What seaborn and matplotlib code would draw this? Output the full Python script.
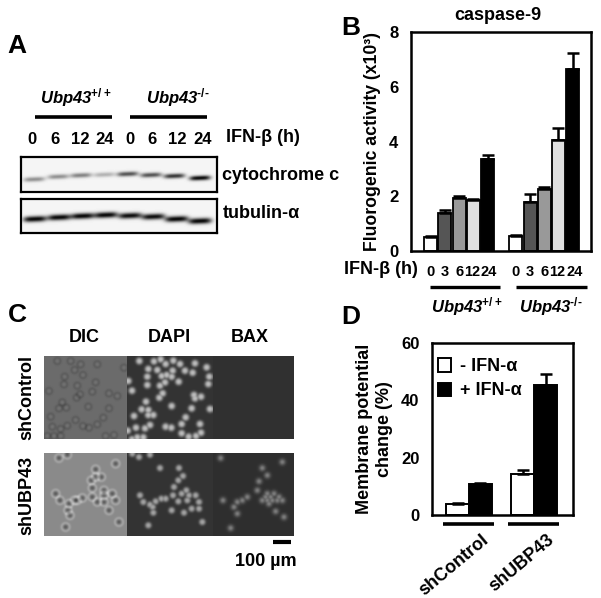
import numpy as np
import pandas as pd
import matplotlib
matplotlib.use("Agg")
import matplotlib.pyplot as plt
import seaborn as sns
from matplotlib.transforms import ScaledTranslation

sns.set_theme(style="white")
FONT = "Liberation Sans"
plt.rcParams.update({
    "font.family": [FONT, "DejaVu Sans"], "font.weight": "bold", "font.size": 11,
    "mathtext.fontset": "custom", "mathtext.rm": f"{FONT}:bold",
    "mathtext.it": f"{FONT}:bold:italic", "mathtext.bf": f"{FONT}:bold",
    "mathtext.bfit": f"{FONT}:bold:italic",
})

# ---- panel B data
b_labels = ["0", "3", "6", "12", "24", "", "0", "3", "6", "12", "24"]
b_pos = [0, 1, 2, 3, 4, 6, 7, 8, 9, 10]
b_vals = [0.5, 1.37, 1.94, 1.86, 3.35, 0.54, 1.8, 2.25, 4.05, 6.65]
b_errs = [0.03, 0.14, 0.08, 0.03, 0.16, 0.03, 0.28, 0.07, 0.43, 0.6]
b_cols = ["white", "#555555", "#999999", "#e0e0e0", "black"] * 2
# ---- panel D data
d_groups = ["shControl", "shControl", "shUBP43", "shUBP43"]
d_hue = ["- IFN-α", "+ IFN-α", "- IFN-α", "+ IFN-α"]
d_vals = [3.9, 10.7, 14.2, 45.5]
d_errs = [0.4, 0.6, 1.5, 3.6]
# ---- panel A lane labels and band readings (x, y, intensity)
a_times = ["0", "6", "12", "24", "0", "6", "12", "24"]
a_time_x = [32, 55, 80, 105, 130, 152, 177, 203]
cyto_x = [58, 130, 198, 268, 338, 408, 478, 555]
cyto_y = [82, 74, 70, 68, 66, 69, 72, 78]
cyto_i = [0.42, 0.42, 0.48, 0.28, 0.68, 0.68, 0.8, 1.0]
tub_x = [105, 178, 248, 318, 390, 460, 530, 600]
tub_y = [597, 592, 588, 585, 587, 590, 597, 603]
tub_i = [0.98, 0.98, 0.98, 0.98, 0.95, 0.95, 0.98, 0.98]
tub_low = [0.1, 0.1, 0.1, 0.1, 0.3, 0.45, 0.65, 0.7]
# ---- panel C cell positions
dic1 = [(40,18),(80,18),(110,28),(160,28),(92,45),(62,65),(117,60),(155,82),(60,88),(100,92),
        (15,108),(108,118),(98,128),(220,123),(195,115),(55,142),(45,160),(67,158),(133,155),
        (195,160),(20,185),(95,195),(70,212),(178,188),(25,215),(117,213),(135,218),(160,208),
        (185,243),(210,240),(50,222),(30,243),(50,243),(10,243),(240,38),(145,110)]
dapi1 = [(418,183),(462,184),(482,178),(520,182),(497,192),(540,192),(585,190),(620,202),(445,207),
         (472,210),(518,212),(500,225),(485,228),(515,230),(555,212),(578,218),(628,230),(442,230),
         (536,245),(625,252),(385,243),(442,255),(480,257),(495,247),(396,272),(488,280),(478,293),
         (582,285),(603,290),(585,295),(438,305),(515,318),(575,325),(425,328),(445,330),(445,345),
         (460,345),(402,348),(450,375),(435,385),(408,383),(497,380),(514,383),(545,372),(557,352),
         (600,372),(545,400),(603,398),(588,408),(566,410),(396,418),(412,412),(430,412),(630,327),(383,392)]
dic2 = [(172,75),(155,52),(142,85),(145,108),(180,115),(205,125),(160,150),(180,150),(215,145),
        (195,175),(145,135),(180,130),(115,138),(92,145),(75,155),(72,175),(78,190),(48,145),
        (35,125),(65,225),(215,35),(45,18),(70,8),(225,210),(100,145),(155,75)]
dapi2a = [(265,5),(285,15),(318,8),(348,48),(288,130),(298,150),(318,158),(335,148),(352,140),
          (365,140),(326,165),(328,182),(313,220)]
dapi2b = [(30,48),(42,72),(28,85),(15,105),(12,130),(28,148),(38,125),(52,115),(55,145),(68,170),
          (80,130),(90,150),(90,170),(60,130),(100,210),(45,182),(8,175)]
bax2 = [(155,18),(280,48),(295,70),(270,88),(265,115),(162,145),(235,135),(220,145),(205,150),
        (195,165),(205,185),(185,228),(345,195),(320,178),(295,125),(315,125),(330,135),(280,145),
        (295,145),(310,145),(325,145),(340,145),(300,155),(290,135),(305,135),(340,30)]

W, H = 601, 598
fig = plt.figure(figsize=(W / 100, H / 100), dpi=100, facecolor="white")


def px_axes(l, t, r, b, **kw):
    return fig.add_axes([l / W, 1 - b / H, (r - l) / W, (b - t) / H], **kw)


overlay = px_axes(0, 0, W, H)
overlay.set_xlim(0, W)
overlay.set_ylim(H, 0)
overlay.axis("off")
overlay.set_zorder(5)


def T(x, y, s, size=11, ha="center", va="center", **kw):
    overlay.text(x, y, s, fontsize=size, ha=ha, va=va, fontweight="bold", color="black", **kw)


def L(x0, x1, y, lw=2.2):
    overlay.plot([x0, x1], [y, y], color="black", lw=lw, solid_capstyle="butt")


def grid(l, t, r, b):
    return np.meshgrid(np.arange(l, r) + 0.5, np.arange(t, b) + 0.5)


def blur(img):
    k = np.array([0.25, 0.5, 0.25])
    out = np.apply_along_axis(lambda v: np.convolve(np.pad(v, 1, mode="edge"), k, mode="valid"), 0, img)
    return np.apply_along_axis(lambda v: np.convolve(np.pad(v, 1, mode="edge"), k, mode="valid"), 1, out)


def show(img, l, t, r, b, frame=0):
    ax = px_axes(l, t, r, b)
    ax.imshow(blur(img), cmap="gray", vmin=0, vmax=1, aspect="auto", interpolation="bilinear")
    ax.set_xticks([]); ax.set_yticks([])
    for s in ax.spines.values():
        s.set_visible(frame > 0)
        s.set_linewidth(frame); s.set_color("black")
    return ax


def bands(l, t, r, b, xs, ys, amps, hw, sig, bg):
    X, Y = grid(l, t, r, b)
    d = np.zeros_like(X, dtype=float)
    for x, y, a in zip(xs, ys, amps):
        d += a * np.exp(-((X - x) / hw) ** 4) * np.exp(-((Y - y + 0.04 * (X - x)) / sig) ** 2)
    return np.clip(bg - d, 0, 1)


def discs(box, cells, R, amp, bg, soft=3):
    X, Y = grid(*box)
    img = np.zeros_like(X, dtype=float)
    for x, y in cells:
        r = np.hypot(X - x, Y - y)
        img = np.maximum(img, amp * np.exp(-(r / R) ** soft))
    return np.clip(bg + img, 0, 1)


def rings(box, cells, R, ring, centre, bg):
    X, Y = grid(*box)
    img = np.full_like(X, bg, dtype=float)
    for x, y in cells:
        r = np.hypot(X - x, Y - y)
        img += ring * np.exp(-((r - R) / 1.1) ** 2) + centre * np.exp(-(r / (R * 0.5)) ** 2)
    return np.clip(img, 0, 1)


def loc(cells, ox, oy):
    return [(ox + x / 3, oy + y / 3) for x, y in cells]


# ---- Panel A
T(17, 46, "A", 19)
T(76, 98, r"$\mathbfit{Ubp43}^{+/+}$", 12)
T(178, 98, r"$\mathbfit{Ubp43}^{‐/‐}$", 12)
L(35, 112, 117, 2.6)
L(130, 207, 117, 2.6)
for x, s in zip(a_time_x, a_times):
    T(x, 139, s, 12)
T(226, 138, "IFN-β (h)", 13, ha="left")
T(222, 175, "cytochrome c", 13, ha="left")
T(223, 213, "tubulin-α", 13, ha="left")
bx = [15 + v / 3 for v in cyto_x]
by = [152 + v / 3 for v in cyto_y]
show(bands(21, 157, 217, 192, bx, by, cyto_i, 10.5, 2.2, 0.96), 21, 157, 217, 192, frame=1.6)
bx = [v / 3 for v in tub_x]
by = [20 + v / 3 for v in tub_y]
img = bands(21, 199, 217, 233, bx, by, tub_i, 11.5, 2.8, 0.96)
img2 = bands(21, 199, 217, 233, bx, [v + 3.5 for v in by], tub_low, 11.5, 2.2, 0.0)
show(np.clip(img + img2, 0, 1), 21, 199, 217, 233, frame=1.6)

# ---- Panel B
axb = px_axes(411, 32, 591, 251)
dfb = pd.DataFrame({"pos": b_pos, "val": b_vals})
sns.barplot(data=dfb, x="pos", y="val", hue="pos", order=list(range(11)), dodge=False,
            palette=dict(zip(b_pos, b_cols)), width=0.92, edgecolor="black", linewidth=1.3,
            legend=False, ax=axb)
axb.errorbar(b_pos, b_vals, yerr=[np.zeros(len(b_errs)), b_errs], fmt="none", ecolor="black",
             elinewidth=1.8, capsize=4, capthick=1.8, zorder=1)
axb.set_xlim(-1.39, 11.29)
axb.set_ylim(0, 8)
axb.set_yticks([0, 2, 4, 6, 8])
axb.set_xticks(range(11))
axb.set_xticklabels(b_labels, fontsize=10.5, fontweight="bold")
axb.tick_params(axis="x", length=0, pad=10, colors="black")
axb.tick_params(axis="y", direction="in", length=3, width=1.6, pad=9, labelsize=12, colors="black")
for lab, s in zip(axb.get_xticklabels(), b_labels):
    shift = {"12": -1.5, "24": 1.5}.get(s, 0)
    lab.set_transform(lab.get_transform() + ScaledTranslation(shift / 100, 0, fig.dpi_scale_trans))
axb.set_xlabel("")
axb.set_ylabel("Fluorogenic activity (x10³)", fontsize=12.7, fontweight="bold", labelpad=6, color="black")
for s in axb.spines.values():
    s.set_linewidth(1.8); s.set_color("black")
T(498, 15, "caspase-9", 13)
T(381, 270, "IFN-β (h)", 13)
L(430, 500, 287, 2.4)
L(516, 587, 287, 2.4)
T(467, 307, r"$\mathbfit{Ubp43}^{+/+}$", 12)
T(551, 307, r"$\mathbfit{Ubp43}^{‐/‐}$", 12)
T(351, 28, "B", 19)

# ---- Panel C
T(17, 315, "C", 19)
T(84, 338, "DIC", 13)
T(169, 338, "DAPI", 13)
T(250, 338, "BAX", 13)
T(27, 398, "shControl", 13, rotation=90)
T(27, 495, "shUBP43", 13, rotation=90)
rows = [(356, 439), (453, 536)]
t, b = rows[0]
show(rings((44, t, 127, b), loc(dic1, 44, 355), 3.2, -0.07, 0.03, 0.42), 44, t, 127, b)
show(discs((127, t, 213, b), loc(dapi1, 0, 300), 3.5, 0.55, 0.2), 127, t, 213, b)
show(np.full((b - t, 81), 0.19), 213, t, 294, b)
t, b = rows[1]
show(rings((44, t, 127, b), loc(dic2, 44, 452), 4.0, 0.13, -0.22, 0.54), 44, t, 127, b)
cells = loc(dapi2a, 44, 452) + loc(dapi2b, 169, 452)
show(discs((127, t, 213, b), cells, 3.2, 0.45, 0.2), 127, t, 213, b)
show(discs((213, t, 294, b), loc(bax2, 169, 452), 3.0, 0.34, 0.18, soft=2), 213, t, 294, b)
L(273, 291, 542, 3)
T(266, 561, "100 µm", 13)

# ---- Panel D
axd = px_axes(432, 343, 573, 515)
dfd = pd.DataFrame({"group": d_groups, "cond": d_hue, "val": d_vals, "err": d_errs})
sns.barplot(data=dfd, x="group", y="val", hue="cond", hue_order=["- IFN-α", "+ IFN-α"],
            palette=["white", "black"], width=0.7, gap=0, edgecolor="black", linewidth=1.4, ax=axd)
for cont, cond in zip(axd.containers, ["- IFN-α", "+ IFN-α"]):
    sub = dfd[dfd["cond"] == cond]
    xs = [p.get_x() + p.get_width() / 2 for p in cont]
    axd.errorbar(xs, sub["val"], yerr=[np.zeros(len(sub)), sub["err"]], fmt="none", ecolor="black",
                 elinewidth=1.8, capsize=4, capthick=1.8, zorder=1)
axd.set_xlim(-0.565, 1.59)
axd.set_ylim(0, 60)
axd.set_yticks([0, 20, 40, 60])
axd.tick_params(axis="y", direction="in", length=3, width=1.6, pad=9, labelsize=12, colors="black")
axd.tick_params(axis="x", length=0, pad=12, labelsize=13, colors="black")
axd.set_xlabel("")
axd.set_ylabel("Membrane potential\nchange (%)", fontsize=13, fontweight="bold", labelpad=6,
               linespacing=1.2, color="black")
plt.setp(axd.get_xticklabels(), rotation=40, ha="right", va="top", rotation_mode="anchor", fontweight="bold")
for lab in axd.get_xticklabels():
    lab.set_transform(lab.get_transform() + ScaledTranslation(12 / 100, 0, fig.dpi_scale_trans))
for s in axd.spines.values():
    s.set_linewidth(1.8); s.set_color("black")
h, l = axd.get_legend_handles_labels()
leg = axd.legend(h, l, loc="upper left", bbox_to_anchor=(-0.05, 0.985), frameon=False, fontsize=13,
                 handlelength=0.75, handleheight=0.75, handletextpad=0.5, labelspacing=0.4,
                 borderaxespad=0.1, borderpad=0.6)
for t_ in leg.get_texts():
    t_.set_fontweight("bold"); t_.set_color("black")
L(443, 494, 524, 2.6)
L(508, 559, 524, 2.6)
T(351, 317, "D", 19)

fig.savefig("out.png", dpi=100, facecolor="white")
